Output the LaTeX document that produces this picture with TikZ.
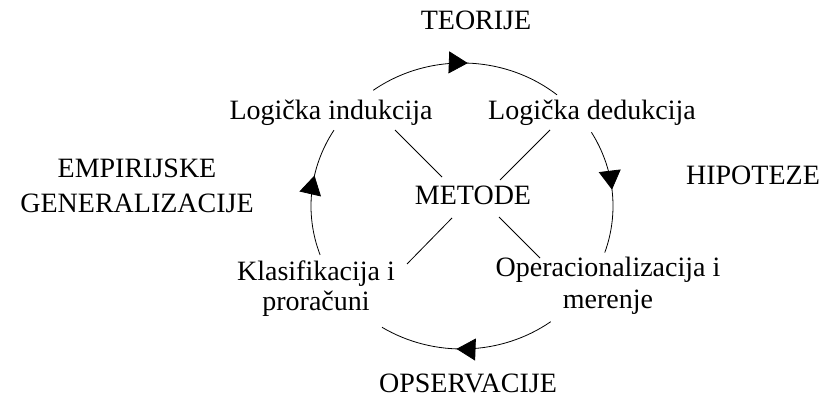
\documentclass[tikz,border=0pt]{standalone}
\usepackage{fontspec}
\setmainfont{Liberation Serif}
\usetikzlibrary{calc,arrows.meta,decorations.markings}
\def\cyclearc[#1](#2)(#3:#4){\draw[#1] ($(#2)+(#3:151 and 143)$) arc (#3:#4:151 and 143);}

\tikzset{
	lbl/.style={font=\fontsize{28}{32}\selectfont, inner sep=0pt, anchor=base, align=center},
	spoke/.style={line width=0.8pt},
	midarrow/.style={line width=0.8pt, postaction={decorate},
		decoration={markings, mark=at position #1 with {\arrow{Triangle[length=19pt,width=22pt]}}}}
}

\begin{document}
\begin{tikzpicture}[x=1pt, y=1pt]
		%%%%% START %%%%%
		\useasboundingbox (0, 0) rectangle (829, 398);
		
		\coordinate (c) at (462, 192);
		
		\node[lbl] (teorije) at (476, 368) {TEORIJE};
		\node[lbl] (hipoteze) at (753, 213) {HIPOTEZE};
		\node[lbl] (opservacije) at (468, 5) {OPSERVACIJE};
		\node[lbl] (empirijske) at (137, 185) {EMPIRIJSKE\\[3pt]GENERALIZACIJE};
		
		\node[lbl] (metode) at (473, 193) {METODE};
		\node[lbl] (indukcija) at (331, 278) {Logička indukcija};
		\node[lbl] (dedukcija) at (592, 278) {Logička dedukcija};
		\node[lbl] (klasifikacija) at (316, 87) {Klasifikacija i\\[-2pt]proračuni};
		\node[lbl] (merenje) at (608, 89) {Operacionalizacija i\\merenje};
		
		% spokes round METODE
		\coordinate (ind-a) at (395, 268); \coordinate (ind-b) at (442, 221);
		\coordinate (ded-a) at (550, 268); \coordinate (ded-b) at (500, 218);
		\coordinate (kla-a) at (407, 134); \coordinate (kla-b) at (452, 180);
		\coordinate (mer-a) at (540, 140); \coordinate (mer-b) at (499, 181);
		\draw[spoke] (ind-a) -- (ind-b);
		\draw[spoke] (ded-a) -- (ded-b);
		\draw[spoke] (kla-a) -- (kla-b);
		\draw[spoke] (mer-a) -- (mer-b);
		
		% the cycle
		\cyclearc[midarrow=0.51](c)(126:51);
		\cyclearc[midarrow=0.49](c)(31:-19);
		\cyclearc[midarrow=0.56](c)(-54:-122);
		\cyclearc[midarrow=0.62](c)(200:148);
		
		%%%%% END %%%%%
	\end{tikzpicture}
\end{document}
